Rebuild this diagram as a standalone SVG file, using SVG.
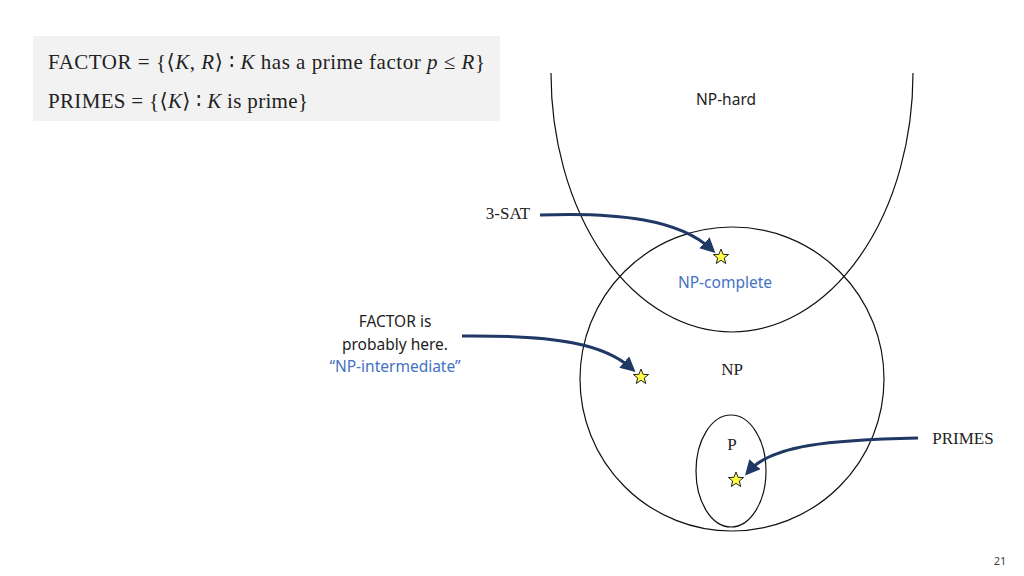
<svg xmlns="http://www.w3.org/2000/svg" width="1024" height="576" viewBox="0 0 1024 576">
<style>
.serif{font-family:"Liberation Serif","DejaVu Serif",serif;fill:#222}
.sans{font-family:"Noto Sans","Liberation Sans",sans-serif;font-size:15.5px;fill:#222}
.blue{fill:#4472c4}
.set{fill:none;stroke:#111;stroke-width:1.2}
.arr{fill:none;stroke:#1f3864;stroke-width:3}
.star{fill:#ffff44;stroke:#222;stroke-width:1}
</style>
<defs>
<marker id="ah" markerWidth="5" markerHeight="5" refX="3" refY="2.5" orient="auto"><path d="M0,0 L5,2.5 L0,5 Z" fill="#1f3864"/></marker>
<path id="st" d="M0,-8 L2.1,-2.6 L7.6,-2.5 L3.3,1 L4.7,6.5 L0,3.3 L-4.7,6.5 L-3.3,1 L-7.6,-2.5 L-2.1,-2.6 Z"/>
</defs>
<rect width="1024" height="576" fill="#fff"/>
<g id="defs-box">
<rect x="33" y="36" width="467" height="85" fill="#f2f2f2"/>
<text class="serif" x="48" y="69" font-size="21" textLength="437" lengthAdjust="spacing">FACTOR = {⟨<tspan font-style="italic">K</tspan>, <tspan font-style="italic">R</tspan>⟩ ∶ <tspan font-style="italic">K</tspan> has a prime factor <tspan font-style="italic">p</tspan> ≤ <tspan font-style="italic">R</tspan>}</text>
<text class="serif" x="48" y="108" font-size="21" textLength="260" lengthAdjust="spacing">PRIMES = {⟨<tspan font-style="italic">K</tspan>⟩ ∶ <tspan font-style="italic">K</tspan> is prime}</text>
</g>
<g id="np-hard"><path class="set" d="M551,73 A181,259 0 0 0 913,73"/><text class="sans" x="726" y="105" text-anchor="middle">NP-hard</text></g>
<g id="np"><circle class="set" cx="732" cy="379" r="152"/><text class="serif" x="732" y="375" font-size="17" text-anchor="middle">NP</text></g>
<g id="np-complete"><text class="sans blue" x="725" y="288" text-anchor="middle">NP-complete</text></g>
<g id="p"><ellipse class="set" cx="731" cy="471" rx="35" ry="56"/><text class="serif" x="732" y="450" font-size="17" text-anchor="middle">P</text></g>
<g id="sat-star"><use href="#st" class="star" x="721" y="257"/></g>
<g id="factor-star"><use href="#st" class="star" x="641" y="377"/></g>
<g id="primes-star"><use href="#st" class="star" x="736" y="480"/></g>
<g id="sat-label"><text class="serif" x="508" y="219" font-size="17" text-anchor="middle">3-SAT</text></g>
<g id="factor-label">
<text class="sans" x="395" y="327" text-anchor="middle">FACTOR is</text>
<text class="sans" x="395" y="350" text-anchor="middle">probably here.</text>
<text class="sans blue" x="395" y="372" text-anchor="middle">“NP-intermediate”</text>
</g>
<g id="primes-label"><text class="serif" x="963" y="444" font-size="17" text-anchor="middle">PRIMES</text></g>
<g id="connectors">
<path class="arr" marker-end="url(#ah)" d="M540,215 C620,212 680,220 711,249"/>
<path class="arr" marker-end="url(#ah)" d="M462,336 C560,335 605,345 631,368"/>
<path class="arr" marker-end="url(#ah)" d="M918,438 C830,440 772,445 749,471"/>
</g>
<text x="1000" y="565" font-family="Noto Sans, sans-serif" font-size="11" fill="#444" text-anchor="middle">21</text>
</svg>
